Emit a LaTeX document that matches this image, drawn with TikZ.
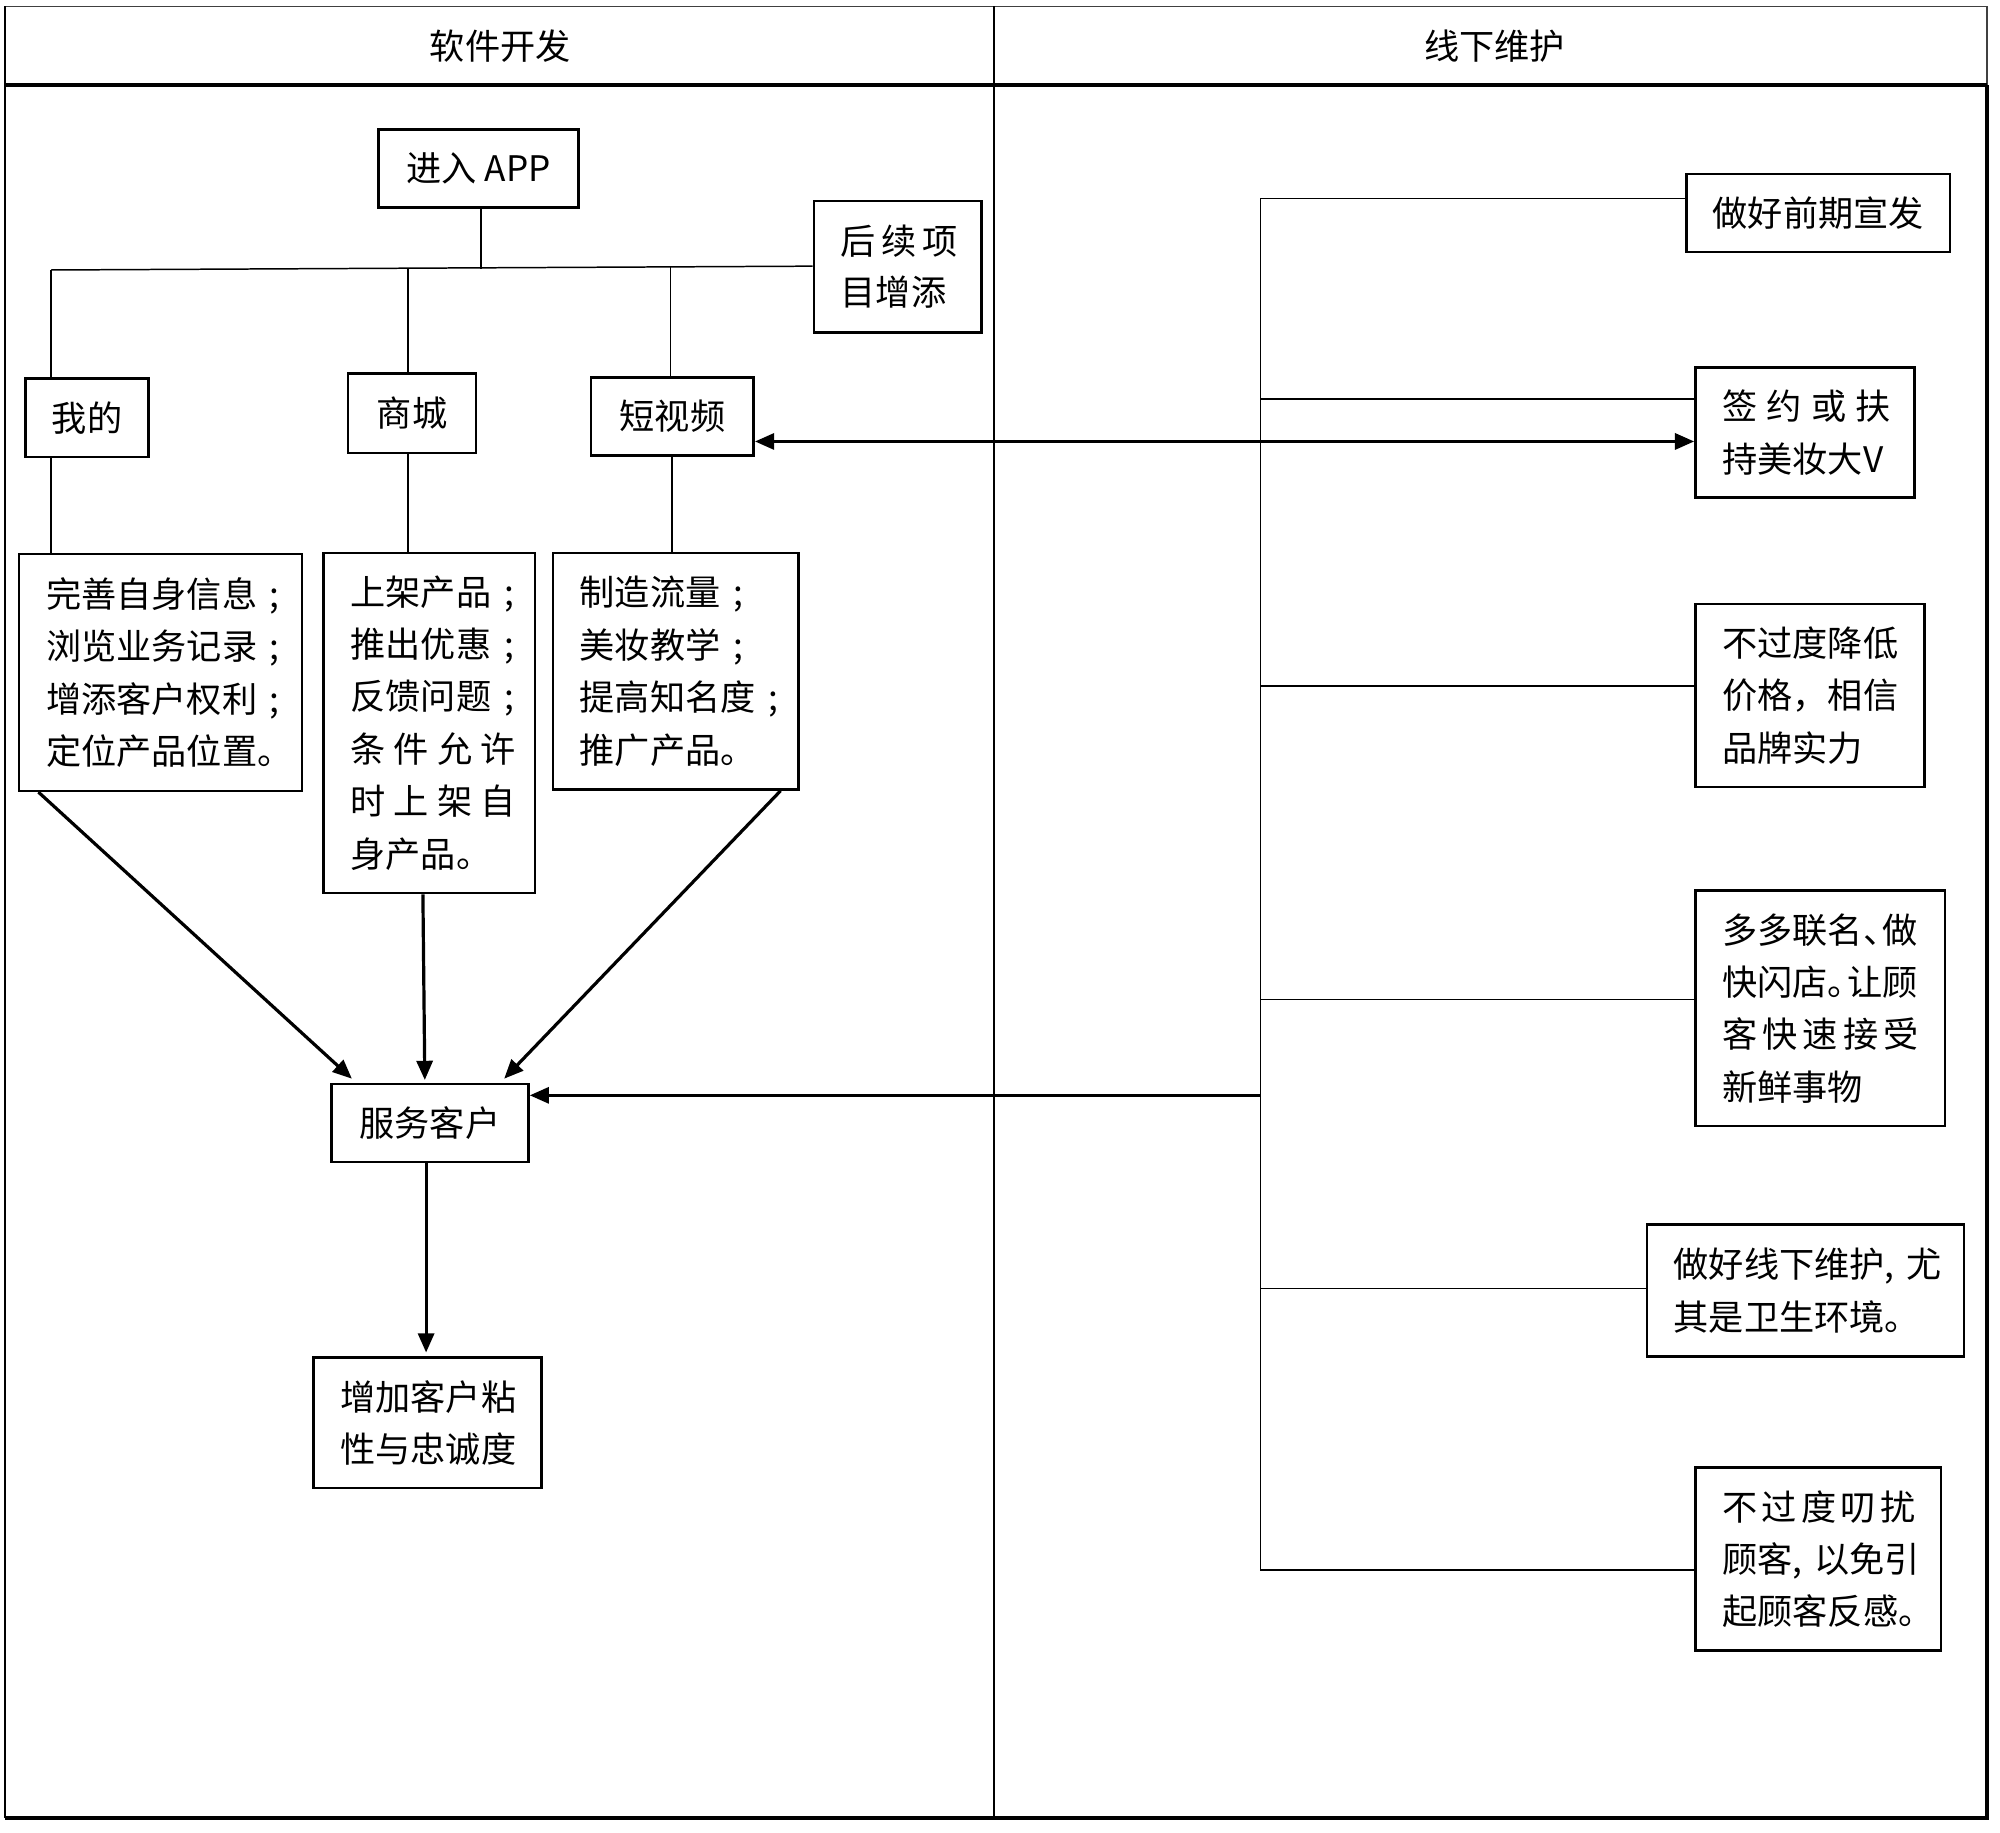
\documentclass[tikz,border=0pt]{standalone}
\usepackage{fontspec}
\setmainfont{Noto Sans CJK SC}
\usetikzlibrary{arrows.meta,calc}
\newcommand\sprd[2]{\makebox[#1][s]{#2}}
\newcommand\halfp[1]{\makebox[0.55em][l]{#1}}
\newcommand\semi{\makebox[1em][c]{;}}
\begin{document}
\begin{tikzpicture}[x=0.6pt,y=-0.6pt,
  txt/.style={font=\fontsize{16.5}{24.6}\selectfont},
  sbox/.style={draw,line width=1.2pt,inner sep=0pt,txt},
  mbox/.style={draw,line width=1.2pt,inner xsep=12.6pt,inner ysep=0pt,align=left,txt},
  thin/.style={line width=0.7pt},
  arr/.style={line width=1.5pt,-{Triangle[length=9pt,width=7.5pt]}},
  darr/.style={line width=1.5pt,{Triangle[length=9pt,width=7.5pt]}-{Triangle[length=9pt,width=7.5pt]}}
]
\useasboundingbox (0,0) rectangle (1563,1432);
% frame
\draw[line width=0.8pt,black!75] (4,5) -- (1553,5);
\draw[line width=0.9pt] (4,5) -- (4,1421);
\draw[line width=0.8pt,black!75] (1553,5) -- (1553,66.5);
\draw[line width=1.8pt] (1553,66.5) -- (1553,1421) -- (4,1421);
\draw[line width=1.6pt] (4,66.5) -- (1553,66.5);
\draw[line width=0.8pt] (777,5) -- (777,1421);
\node[txt] (h1) at (391,36) {软件开发};
\node[txt] (h2) at (1168,36) {线下维护};

% left lane nodes
\node[sbox,minimum width=93.6pt,minimum height=36.6pt] (app) at (374,131.5) {进入 APP};
\node[mbox,text width=53.4pt,minimum height=61.8pt,font=\fontsize{16.5}{24}\selectfont] (hx) at (701.5,208.5) {\sprd{55pt}{后\hfil 续\hfil 项}\\目增添};
\node[sbox,minimum width=57.6pt,minimum height=36.6pt] (me) at (68,326.5) {我的};
\node[sbox,minimum width=60pt,minimum height=37.2pt] (sc) at (322,323) {商城};
\node[sbox,minimum width=76.2pt,minimum height=36.6pt] (sv) at (525.5,325.5) {短视频};
\node[mbox,text width=107.4pt,minimum height=111pt] (b1) at (125.5,525.5) {完善自身信息\semi\\浏览业务记录\semi\\增添客户权利\semi\\定位产品位置。};
\node[mbox,text width=73.8pt,minimum height=159.6pt] (b2) at (335.5,565) {上架产品\semi\\推出优惠\semi\\反馈问题\semi\\\sprd{77.5pt}{条\hfil 件\hfil 允\hfil 许}\\\sprd{77.5pt}{时\hfil 上\hfil 架\hfil 自}\\身产品。};
\node[mbox,text width=90pt,minimum height=111pt] (b3) at (528,524.5) {制造流量\semi\\美妆教学\semi\\提高知名度\semi\\推广产品。};
\node[sbox,minimum width=92.4pt,minimum height=36.6pt] (fw) at (336,877.5) {服务客户};
\node[mbox,text width=81.6pt,minimum height=61.2pt] (zh) at (334,1112) {增加客户粘\\性与忠诚度};

% right lane nodes
\node[sbox,minimum width=123.6pt,minimum height=36.6pt] (xq) at (1421,166.5) {做好前期宣发};
\node[mbox,text width=77.4pt,minimum height=61.2pt] (qy) at (1410.5,338) {\sprd{79pt}{签\hfil 约\hfil 或\hfil 扶}\\持美妆大V};
\node[mbox,text width=82.2pt,minimum height=85.8pt] (bg) at (1414.5,543.5) {不过度降低\\价格，相信\\品牌实力};
\node[mbox,text width=91.8pt,minimum height=110.4pt] (dd) at (1422.5,788) {多多联名\halfp{、}做\\快闪店\halfp{。}让顾\\\sprd{92pt}{客\hfil 快\hfil 速\hfil 接\hfil 受}\\新鲜事物};
\node[mbox,text width=123.6pt,minimum height=61.8pt] (xx) at (1411,1008.5) {\mbox{做好线下维护,\ 尤}\\其是卫生环境。};
\node[mbox,text width=90pt,minimum height=85.8pt] (br) at (1421,1218.5) {\sprd{90.6pt}{不\hfil 过\hfil 度\hfil 叨\hfil 扰}\\\mbox{顾客,\ 以免引}\\起顾客反感。};

% tree connectors
\coordinate (barL) at (40,211);
\coordinate (appj) at (376,210);
\draw[thin] (hx.west |- 0,208) -- (barL);
\draw[thin] (app.south -| appj) -- (appj);
\draw[thin] (barL) -- (barL |- me.north);
\draw[thin] (319,210) -- (319,0 |- sc.north);
\draw[thin] (524,209) -- (524,0 |- sv.north);
\draw[thin] (barL |- me.south) -- (barL |- b1.north);
\draw[thin] (319,0 |- sc.south) -- (319,0 |- b2.north);
\draw[thin] (525,0 |- sv.south) -- (525,0 |- b3.north);

% arrows to 服务客户
\draw[arr] ($(b1.south west)+(16,0)$) -- ($(fw.north west)+(17,-3)$);
\draw[arr] ($(b2.south)+(-5,0)$) -- ($(fw.north)+(-4,-2)$);
\draw[arr] ($(b3.south east)+(-15,0)$) -- ($(fw.north east)+(-20,-3)$);
\draw[arr] (fw.south -| 333,0) -- ($(zh.north -| 333,0)+(0,-3)$);

% right spine
\coordinate (s1) at (985,155);
\coordinate (s2) at (985,312);
\coordinate (s3) at (985,536);
\coordinate (s4) at (985,781);
\coordinate (s5) at (985,1007);
\coordinate (s6) at (985,1227);
\coordinate (sj) at (985,856);
\draw[thin] (s1) -- (s6);
\draw[thin] (s1) -- (s1 -| xq.west);
\draw[thin] (s2) -- (s2 -| qy.west);
\draw[thin] (s3) -- (s3 -| bg.west);
\draw[thin] (s4) -- (s4 -| dd.west);
\draw[thin] (s5) -- (s5 -| xx.west);
\draw[thin] (s6) -- (s6 -| br.west);
\draw[arr] (sj) -- (sj -| fw.east);
\coordinate (dv) at ($(sv.east)+(0,19.5)$);
\draw[darr] (dv) -- (dv -| qy.west);
\end{tikzpicture}
\end{document}
